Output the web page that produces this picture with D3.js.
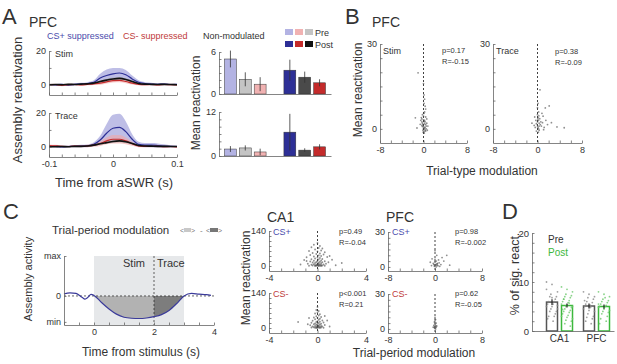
<!DOCTYPE html>
<html>
<head>
<meta charset="utf-8">
<script src="https://cdn.jsdelivr.net/npm/d3@7"></script>
<style>
  body { margin: 0; background: #fff; }
  text { font-family: "Liberation Sans", Arial, sans-serif; font-weight: normal; }
</style>
</head>
<body>
<svg id="fig" width="617" height="364"></svg>
<script>
// ---------- data ----------
// A: reactivation traces around aSWR (time in s)
const traceT = [-0.1,-0.09,-0.08,-0.07,-0.06,-0.05,-0.04,-0.03,-0.02,-0.01,0,0.01,0.02,0.03,0.04,0.05,0.06,0.07,0.08,0.09,0.1];
const stimBlue     = [0.2,0.0,0.3,-0.2,0.3,0.5,0.8,1.5,4.0,5.5,6.5,7.0,6.0,3.5,1.5,0.8,0.5,0.3,0.5,0.2,0.3];
const stimBlueErr  = [0.5,0.5,0.5,0.5,0.6,0.7,0.8,1.2,2.5,3.5,3.5,3.0,2.8,2.0,1.2,0.8,0.8,0.6,0.6,0.5,0.5];
const stimRed      = [0.0,0.2,-0.3,0.1,0.2,0.0,0.3,0.6,1.0,1.8,2.5,2.6,2.0,1.0,0.3,0.1,0.2,-0.1,0.2,0.1,0.0];
const stimRedErr   = [0.5,0.5,0.5,0.5,0.5,0.5,0.6,0.7,0.9,1.0,1.1,1.1,1.0,0.8,0.6,0.5,0.5,0.5,0.5,0.5,0.5];
const stimBlack    = [0.0,0.2,0.1,0.3,0.2,0.4,0.6,1.0,2.0,2.8,3.5,3.8,3.2,2.0,0.8,0.4,0.3,0.2,0.3,0.2,0.1];
const stimBlackErr = [0.3,0.3,0.3,0.3,0.3,0.3,0.4,0.5,0.6,0.7,0.8,0.8,0.7,0.6,0.4,0.3,0.3,0.3,0.3,0.3,0.3];
const trcBlue      = [0.2,0.3,0.0,0.2,0.3,0.5,0.6,1.5,4.0,8.0,11.0,11.5,9.0,4.5,1.5,1.0,1.0,0.8,0.5,0.3,0.2];
const trcBlueErr   = [0.6,0.6,0.6,0.6,0.6,0.7,0.8,1.2,2.5,5.5,8.0,8.0,6.0,3.0,1.5,1.2,1.2,1.2,1.0,0.7,0.6];
const trcRed       = [0.8,0.6,0.3,0.2,0.4,0.3,0.5,1.0,2.0,3.5,4.5,4.5,3.5,1.8,0.5,0.3,0.2,0.3,0.1,0.2,0.0];
const trcRedErr    = [0.6,0.6,0.5,0.5,0.5,0.6,0.7,1.0,1.5,2.0,2.5,2.5,2.0,1.2,0.7,0.6,0.5,0.5,0.5,0.5,0.5];
const trcBlack     = [0.0,0.1,0.2,0.1,0.3,0.3,0.5,1.0,1.8,2.5,3.2,3.5,3.0,2.0,0.8,0.5,0.4,0.3,0.3,0.2,0.2];
const trcBlackErr  = [0.3,0.3,0.3,0.3,0.3,0.3,0.4,0.5,0.6,0.7,0.8,0.8,0.7,0.6,0.4,0.3,0.3,0.3,0.3,0.3,0.3];

// A: mean reactivation bars (CS+ suppressed, non-modulated, CS- suppressed)
const stimPre = [5.0, 2.1, 1.4],  stimPreErr = [1.2, 1.0, 1.0];
const stimPost = [3.4, 2.4, 1.6], stimPostErr = [1.5, 0.8, 0.5];
const trcPre = [1.9, 2.2, 1.1],   trcPreErr = [0.8, 0.7, 0.9];
const trcPost = [6.5, 1.6, 2.5],  trcPostErr = [5.0, 0.5, 0.7];

// B: trial-type modulation vs mean reactivation (PFC)
const bStim = [[-1.0,19.8],[0.0,16],[0.1,12],[0.2,10.5],[0.1,9],[0.3,8],[0.4,7],[0.2,6],[-0.2,5],[0.1,5.5],
  [-1.5,3.9],[-1.2,0.3],[-0.5,3],[-0.3,2.5],[-0.2,2],[-0.1,1.5],[0.0,1],[0.1,0.5],[0.2,0],[0.3,-0.5],
  [0.4,-0.8],[0.5,1],[0.6,2],[-0.4,4],[-0.3,3.5],[0.0,4.5],[0.2,3],[0.3,2.5],[0.4,1.5],[0.1,-1],
  [-0.1,-0.5],[0.0,0.2],[-0.2,0.8],[0.3,0.5],[0.5,0],[0.7,-0.5],[0.2,1.8],[-0.3,1.2],[0.1,2.6],[0.0,3.2],
  [0.6,3.5],[0.8,1],[-0.6,1.6],[0.15,-1.5],[-0.05,-1.2],[0.4,4.2]];
const bTrace = [[0.45,13.8],[2.1,8.1],[1.4,7.4],[0.8,5.5],[1.0,4.5],[1.5,3],[2.5,2.2],[3.5,0.7],[4.8,0.4],[-0.5,4.2],
  [-1.0,2],[-0.3,3],[0.0,5],[0.1,4],[0.2,3],[0.3,2],[0.0,1],[0.1,0.5],[0.2,0],[0.3,-0.5],
  [-0.2,-0.8],[0.5,1.5],[0.6,2.5],[0.2,6],[0.0,7.5],[0.1,9],[0.7,1],[1.2,0.5],[1.8,1.5],[-0.4,0.5],
  [-0.2,1.8],[0.4,3.6],[0.0,2.5],[0.15,-1.2],[0.3,1],[0.9,2.2],[1.1,-0.3],[-0.6,1.2],[0.05,3.5],[0.25,4.6]];

// C: schematic assembly activity
const schemT = [-1,-0.8,-0.6,-0.4,-0.3,-0.2,-0.1,0,0.25,0.5,0.75,1,1.25,1.5,1.75,2,2.25,2.5,2.75,3,3.25,3.5,3.75,3.9];
const schemV = [0.08,0.12,0.1,-0.05,-0.12,-0.05,0.06,0.02,-0.25,-0.5,-0.7,-0.82,-0.86,-0.87,-0.85,-0.8,-0.72,-0.56,-0.3,0.0,0.1,0.07,0.05,0.02];

// C: trial-period modulation vs mean reactivation
const ca1Plus = [[0.0,92],[-0.3,85],[0.2,80],[-0.5,75],[0.1,72],[0.4,70],[-0.2,66],[0.3,62],[-0.7,60],[0.0,58],
  [0.6,55],[-0.4,52],[0.2,50],[-0.1,48],[0.5,46],[-0.6,44],[0.1,42],[0.3,40],[-0.3,38],[0.8,36],
  [-0.9,35],[0.0,34],[0.2,32],[-0.2,30],[0.4,28],[-0.5,27],[0.1,26],[1.2,25],[-1.1,24],[0.3,22],
  [-0.3,21],[0.0,20],[0.6,19],[-0.6,18],[0.2,17],[-0.1,16],[0.4,15],[-0.4,14],[2.0,12],[0.1,13],
  [-0.2,12],[0.3,11],[0.0,10],[-0.8,9],[0.7,9],[0.1,8],[-0.3,7],[0.2,6],[0.5,6],[-0.5,5],
  [0.0,5],[0.3,4],[-0.1,4],[0.1,3],[-0.2,3],[0.4,2],[-0.4,2],[0.0,2],[0.2,1],[-0.1,1],
  [0.6,1],[-0.7,1],[0.1,0],[-0.2,0],[0.3,0],[1.5,3],[-1.4,6],[0.9,15],[-0.9,20],[1.0,40]];
const ca1Minus = [[0.0,84],[-0.1,72],[0.1,68],[0.0,62],[-0.2,58],[0.2,55],[0.1,50],[-0.1,47],[0.3,44],[-0.3,42],
  [0.0,40],[0.2,37],[-0.2,35],[0.1,33],[0.4,30],[-0.4,29],[0.0,27],[0.2,25],[-0.1,24],[0.5,22],
  [-0.5,21],[0.1,20],[-0.2,18],[0.3,17],[0.0,16],[-0.3,15],[0.2,14],[-0.1,13],[0.6,12],[-0.6,11],
  [0.1,10],[0.0,9],[-0.2,8],[0.3,8],[0.1,7],[-0.4,6],[0.4,6],[0.0,5],[-0.1,4],[0.2,4],
  [0.0,3],[-0.3,3],[0.3,2],[0.1,2],[-0.2,1],[0.0,1],[0.2,0],[-0.1,0],[0.5,1],[-0.5,2],
  [-1.6,24],[1.0,6],[-0.8,15],[0.8,30],[-0.7,40],[0.6,48]];
const pfcPlus = [[0.0,14],[0.3,10],[2.0,10],[1.2,8],[-0.5,7],[0.6,6],[1.5,5],[-0.8,4],[0.2,5],[0.0,4],
  [0.4,3],[-0.3,3],[0.1,2],[-0.2,2],[0.3,1.5],[0.0,1],[0.5,1],[-0.1,0.5],[0.2,0],[0.8,0.5],
  [1.0,2],[2.5,1.5],[-0.6,1.2],[0.0,6.5],[0.35,2.5],[0.7,3.5]];
const pfcMinus = [[0.0,10],[0.1,8],[-0.1,6],[0.2,5],[0.0,4],[-0.2,3],[0.1,3],[0.0,2],[0.2,1.5],[-0.1,1],
  [0.0,0.5],[0.1,0],[-0.3,1.5],[0.3,2.5],[0.0,7]];

// D: % of significantly reactivated assemblies
const dRegions = ["CA1", "PFC"];
const dMeans = {CA1: [5.9, 5.2], PFC: [5.1, 5.0]};
const dErrs = {CA1: [0.6, 0.4], PFC: [0.5, 0.4]};
const ca1PreDots = [10,9.5,8,7.5,7,7,6.5,6,6,5.5,5.5,5,5,4.5,4.5,4,4,3.5,3,3,2.5,2,8.5,6.8,5.2];
const ca1PostDots = [9,8.5,8,7.5,7.2,7,6.8,6.5,6.2,6,5.8,5.5,5.3,5,5,4.8,4.5,4.2,4,3.8,3.5,3.2,3,2.8,2.5,2.2,2,1.5,1,6.5,5.7,4.4];
const pfcPreDots = [8,7.5,7,6.8,6.5,6,5.8,5.5,5,5,4.8,4.5,4.2,4,3.5,3,2.8,2.5,2,1.5,6.2,5.3];
const pfcPostDots = [8,7.5,7,6.5,6.2,6,5.8,5.5,5.2,5,5,4.8,4.5,4.2,4,3.8,3.5,3,2.5,2,1.5,6.8,5.5,4.6];

// ---------- helpers ----------
const svg = d3.select("#fig");
const BLUE = "#2d2f96", RED = "#c42b2b", GREEN = "#3cb83c";
const INK = "#333";

function label(x, y, str, o = {}) {
    const t = svg.append("text")
        .attr("x", x).attr("y", y)
        .attr("fill", o.color || INK)
        .attr("text-anchor", o.anchor || "start")
        .style("font-size", (o.size || 9) + "px")
        .text(str);
    if (o.rotate) t.attr("x", 0).attr("y", 0).attr("transform", `translate(${x},${y}) rotate(-90)`);
    return t;
}

function near(list, d) {
    return (list || []).some(v => Math.abs(v - d) < 1e-9);
}

// MATLAB-ish axes: box off, ticks pointing inward
function axes(x, y, o) {
    const gx = svg.append("g")
        .attr("transform", `translate(0,${y.range()[0]})`)
        .call(d3.axisBottom(x).tickValues(o.xTicks).tickSize(-2.5).tickSizeOuter(0).tickPadding(4)
            .tickFormat(o.xFmt || (d => near(o.xLab, d) ? String(d) : "")));
    const gy = svg.append("g")
        .attr("transform", `translate(${x.range()[0]},0)`)
        .call(d3.axisLeft(y).tickValues(o.yTicks).tickSize(-2.5).tickSizeOuter(0).tickPadding(3)
            .tickFormat(o.yFmt || (d => near(o.yLab, d) ? String(d) : "")));
    [gx, gy].forEach(g => {
        g.attr("font-family", "'Liberation Sans', Arial, sans-serif").attr("font-size", o.fs || 9);
        g.select(".domain").attr("stroke", "#666").attr("stroke-width", 0.8);
        g.selectAll(".tick line").attr("stroke", "#666").attr("stroke-width", 0.8);
        g.selectAll(".tick text").attr("fill", INK);
    });
}

// ---------- panel letters ----------
label(2, 24, "A", {size: 22});
label(345, 24, "B", {size: 22});
label(3, 219, "C", {size: 22});
label(502, 219, "D", {size: 22});

// ---------- A: traces ----------
label(29, 27, "PFC", {size: 14});
label(47, 39, "CS+ suppressed", {color: "#4b4bab"});
label(123, 39, "CS- suppressed", {color: "#c03a3a"});
label(203, 39, "Non-modulated");

const xT = d3.scaleLinear().domain([-0.1, 0.1]).range([49, 177]);
const timeTicks = d3.range(-0.1, 0.1001, 0.02);

function tracePanel(yTop, yBot, series, name, showX, clipId) {
    const y = d3.scaleLinear().domain([-6, 20]).range([yBot, yTop]);
    svg.append("clipPath").attr("id", clipId).append("rect")
        .attr("x", 49).attr("y", yTop).attr("width", 128).attr("height", yBot - yTop);
    const g = svg.append("g").attr("clip-path", `url(#${clipId})`);
    const area = d3.area().x((d, i) => xT(traceT[i]))
        .y0(d => y(d[0] - d[1])).y1(d => y(d[0] + d[1])).curve(d3.curveMonotoneX);
    const line = d3.line().x((d, i) => xT(traceT[i])).y(d => y(d)).curve(d3.curveMonotoneX);
    series.forEach(s => {
        g.append("path").datum(s.m.map((v, i) => [v, s.e[i]]))
            .attr("d", area).attr("fill", s.band).attr("opacity", s.op);
    });
    series.forEach(s => {
        g.append("path").datum(s.m).attr("d", line)
            .attr("fill", "none").attr("stroke", s.c).attr("stroke-width", s.w);
    });
    axes(xT, y, {xTicks: timeTicks, xLab: showX ? [-0.1, 0, 0.1] : [], yTicks: [0, 10, 20], yLab: [0, 20]});
    label(55, yTop + 6, name);
}

tracePanel(51, 95, [
    {m: stimBlue, e: stimBlueErr, c: BLUE, band: "#a8a8de", op: 0.75, w: 1.2},
    {m: stimRed, e: stimRedErr, c: RED, band: "#f2a6a6", op: 0.6, w: 1.2},
    {m: stimBlack, e: stimBlackErr, c: "#111", band: "#9a9a9a", op: 0.5, w: 1.6}
], "Stim", false, "clipStim");
tracePanel(113, 157, [
    {m: trcBlue, e: trcBlueErr, c: BLUE, band: "#a8a8de", op: 0.75, w: 1.2},
    {m: trcRed, e: trcRedErr, c: RED, band: "#f2a6a6", op: 0.6, w: 1.2},
    {m: trcBlack, e: trcBlackErr, c: "#111", band: "#9a9a9a", op: 0.5, w: 1.6}
], "Trace", true, "clipTrace");

label(22, 100, "Assembly reactivation", {size: 13, anchor: "middle", rotate: true});
label(114, 187, "Time from aSWR (s)", {size: 13, anchor: "middle"});

// ---------- A: bars ----------
const slots = ["pre0", "pre1", "pre2", "gap", "post0", "post1", "post2"];
const xBar = d3.scaleBand().domain(slots).range([223, 327]).paddingInner(0.2).paddingOuter(0.1);
const preCol = ["#b3b3e3", "#c4c4c4", "#f1b2b2"];
const postCol = [BLUE, "#4a4a4a", RED];

function barPanel(yTop, yBot, max, step, pre, preErr, post, postErr) {
    const y = d3.scaleLinear().domain([0, max]).range([yBot, yTop]);
    const rows = pre.map((v, i) => ({slot: "pre" + i, v, e: preErr[i], c: preCol[i]}))
        .concat(post.map((v, i) => ({slot: "post" + i, v, e: postErr[i], c: postCol[i]})));
    svg.append("g").selectAll("rect").data(rows).join("rect")
        .attr("x", d => xBar(d.slot)).attr("width", xBar.bandwidth())
        .attr("y", d => y(d.v)).attr("height", d => y(0) - y(d.v))
        .attr("fill", d => d.c).attr("stroke", "#333").attr("stroke-width", 0.5);
    svg.append("g").selectAll("line").data(rows).join("line")
        .attr("x1", d => xBar(d.slot) + xBar.bandwidth() / 2).attr("x2", d => xBar(d.slot) + xBar.bandwidth() / 2)
        .attr("y1", d => y(Math.max(0, d.v - d.e))).attr("y2", d => y(d.v + d.e))
        .attr("stroke", "#333").attr("stroke-width", 0.8);
    const xAx = d3.scaleLinear().domain([0, 1]).range([219, 331]);
    axes(xAx, y, {xTicks: [], yTicks: d3.range(0, max + 0.01, step), yLab: [0, max]});
}
barPanel(52, 94, 6, 1, stimPre, stimPreErr, stimPost, stimPostErr);
barPanel(112, 156, 12, 2, trcPre, trcPreErr, trcPost, trcPostErr);
label(200, 103, "Mean reactivation", {size: 12, anchor: "middle", rotate: true});

// legend
[["#b3b3e3", "#f1b2b2", "#c4c4c4"], [BLUE, RED, "#111"]].forEach((cols, r) => {
    cols.forEach((c, i) => {
        svg.append("rect").attr("x", 285 + i * 10).attr("y", 29 + r * 12)
            .attr("width", 8).attr("height", 6).attr("fill", c);
    });
    label(315, 36 + r * 12, r === 0 ? "Pre" : "Post");
});

// ---------- B ----------
label(372, 27, "PFC", {size: 14});

function scatter(pts, x, y, o) {
    axes(x, y, o);
    svg.append("line")
        .attr("x1", x(0)).attr("x2", x(0)).attr("y1", y.range()[1]).attr("y2", y.range()[0])
        .attr("stroke", "#111").attr("stroke-width", 0.8).attr("stroke-dasharray", "2,2");
    svg.append("g").selectAll("circle").data(pts).join("circle")
        .attr("cx", d => x(d[0])).attr("cy", d => y(d[1])).attr("r", 0.9)
        .attr("fill", "#444").attr("opacity", 0.6);
}

const bY = d3.scaleLinear().domain([-5, 30]).range([143, 44]);
const bOpts = {xTicks: d3.range(-8, 8.01, 2), xLab: [-8, 0, 8], yTicks: d3.range(0, 30.01, 5), yLab: [0, 30]};
scatter(bStim, d3.scaleLinear().domain([-8, 8]).range([380, 467]), bY, bOpts);
scatter(bTrace, d3.scaleLinear().domain([-8, 8]).range([493, 582]), bY, bOpts);
label(383, 54, "Stim");
label(442, 53, "p=0.17", {size: 7.5});
label(442, 64, "R=-0.15", {size: 7.5});
label(496, 54, "Trace");
label(555, 54, "p=0.38", {size: 7.5});
label(555, 65, "R=-0.09", {size: 7.5});
label(362, 90, "Mean reactivation", {size: 12, anchor: "middle", rotate: true});
label(482, 175, "Trial-type modulation", {size: 12, anchor: "middle"});

// ---------- C: schematic ----------
label(52, 234, "Trial-period modulation", {size: 11.5});
label(180, 233, "<", {size: 7, color: "#777"});
svg.append("rect").attr("x", 184).attr("y", 228).attr("width", 7).attr("height", 4).attr("fill", "#c8c8c8");
label(191, 233, ">", {size: 7, color: "#777"});
label(200, 233, "-", {size: 8, color: "#777"});
label(206, 233, "<", {size: 7, color: "#777"});
svg.append("rect").attr("x", 210).attr("y", 228).attr("width", 8).attr("height", 4).attr("fill", "#777");
label(218, 233, ">", {size: 7, color: "#777"});

const sx = d3.scaleLinear().domain([-1, 4]).range([64, 214]);
const sy = d3.scaleLinear().domain([-1.12, 1.54]).range([325, 256]);
svg.append("rect").attr("x", sx(0)).attr("y", sy(1.54)).attr("width", sx(3) - sx(0))
    .attr("height", sy(-1.12) - sy(1.54)).attr("fill", "#e6e8ea");
const schem = schemT.map((t, i) => [t, schemV[i]]);
const fillArea = d3.area().x(d => sx(d[0])).y0(sy(0)).y1(d => sy(Math.min(0, d[1]))).curve(d3.curveMonotoneX);
svg.append("path").datum(schem.filter(d => d[0] >= 0 && d[0] <= 2)).attr("d", fillArea).attr("fill", "#b2b2b2");
svg.append("path").datum(schem.filter(d => d[0] >= 2 && d[0] <= 3)).attr("d", fillArea).attr("fill", "#7d7d7d");
svg.append("line").attr("x1", sx(-1)).attr("x2", sx(4)).attr("y1", sy(0)).attr("y2", sy(0))
    .attr("stroke", "#222").attr("stroke-width", 0.7).attr("stroke-dasharray", "2,2");
svg.append("line").attr("x1", sx(2)).attr("x2", sx(2)).attr("y1", sy(1.54)).attr("y2", sy(-1.12))
    .attr("stroke", "#222").attr("stroke-width", 0.7).attr("stroke-dasharray", "2,2");
svg.append("path").datum(schem)
    .attr("d", d3.line().x(d => sx(d[0])).y(d => sy(d[1])).curve(d3.curveMonotoneX))
    .attr("fill", "none").attr("stroke", "#3b3b9a").attr("stroke-width", 1.2);
axes(sx, sy, {
    xTicks: d3.range(-1, 4.01, 0.5), xLab: [0, 2, 4],
    yTicks: [-1, 0, 1.54], yFmt: d => d === -1 ? "min" : d === 0 ? "0" : "max"
});
label(123, 267, "Stim", {size: 11});
label(157, 267, "Trace", {size: 11});
label(32, 279, "Assembly activity", {size: 11, anchor: "middle", rotate: true});
label(141, 356, "Time from stimulus (s)", {size: 12, anchor: "middle"});

// ---------- C: scatters ----------
label(267, 222, "CA1", {size: 14});
label(386, 222, "PFC", {size: 14});
const caX = d3.scaleLinear().domain([-4, 4]).range([269, 366]);
const pfX = d3.scaleLinear().domain([-8, 8]).range([388, 482]);
const caOpts = {xTicks: d3.range(-4, 4.01, 1), xLab: [-4, 0, 4], yTicks: d3.range(0, 140.1, 20), yLab: [0, 140]};
const pfOpts = {xTicks: d3.range(-8, 8.01, 2), xLab: [-8, 0, 8], yTicks: d3.range(0, 30.01, 5), yLab: [0, 30]};
scatter(ca1Plus, caX, d3.scaleLinear().domain([-20, 140]).range([271, 231]), caOpts);
scatter(ca1Minus, caX, d3.scaleLinear().domain([-20, 140]).range([333, 293]), caOpts);
scatter(pfcPlus, pfX, d3.scaleLinear().domain([-3.5, 30]).range([271, 232]), pfOpts);
scatter(pfcMinus, pfX, d3.scaleLinear().domain([-3.5, 30]).range([333, 294]), pfOpts);
label(273, 235, "CS+", {color: "#4b4bab"});
label(273, 297, "CS-", {color: "#c03a3a"});
label(392, 235, "CS+", {color: "#4b4bab"});
label(392, 297, "CS-", {color: "#c03a3a"});
label(339, 234, "p=0.49", {size: 7.5});
label(339, 245, "R=-0.04", {size: 7.5});
label(339, 296, "p<0.001", {size: 7.5});
label(339, 307, "R=0.21", {size: 7.5});
label(455, 234, "p=0.98", {size: 7.5});
label(455, 245, "R=-0.002", {size: 7.5});
label(455, 296, "p=0.62", {size: 7.5});
label(455, 307, "R=-0.05", {size: 7.5});
label(250, 278, "Mean reactivation", {size: 12, anchor: "middle", rotate: true});
label(414, 357, "Trial-period modulation", {size: 12, anchor: "middle"});

// ---------- D ----------
const dx = d3.scaleBand().domain(dRegions).range([541, 615]);
const dxi = d3.scaleBand().domain(["Pre", "Post"]).range([5.5, 31.5]).paddingInner(0.267);
const dy = d3.scaleLinear().domain([0, 20]).range([331, 233]);
const dDots = {CA1: [ca1PreDots, ca1PostDots], PFC: [pfcPreDots, pfcPostDots]};
dRegions.forEach(r => {
    ["Pre", "Post"].forEach((k, j) => {
        const x0 = dx(r) + dxi(k), w = dxi.bandwidth(), cx = x0 + w / 2;
        const col = j === 0 ? "#555" : GREEN;
        const m = dMeans[r][j], e = dErrs[r][j];
        svg.append("rect").attr("x", x0).attr("y", dy(m)).attr("width", w).attr("height", dy(0) - dy(m))
            .attr("fill", "#fff").attr("stroke", col).attr("stroke-width", 1.5);
        svg.append("g").selectAll("circle").data(dDots[r][j]).join("circle")
            .attr("cx", (d, i) => cx + ((i * 5) % 11 - 5) * 1.1)
            .attr("cy", d => dy(d)).attr("r", 0.9)
            .attr("fill", j === 0 ? "#888" : "#6cc86c").attr("opacity", 0.8);
        svg.append("line").attr("x1", cx).attr("x2", cx).attr("y1", dy(m - e)).attr("y2", dy(m + e))
            .attr("stroke", "#222").attr("stroke-width", 1.2);
    });
});
const dAx = d3.scaleLinear().domain([0, 1]).range([532, 614]);
axes(dAx, dy, {xTicks: [], yTicks: d3.range(0, 20.01, 2), yLab: [0, 10, 20], fs: 9.5});
dRegions.forEach(r => label(dx(r) + dx.bandwidth() / 2, 342, r, {size: 10, anchor: "middle"}));
label(548, 243, "Pre", {size: 10});
label(548, 256, "Post", {size: 10, color: GREEN});
label(519, 274, "% of sig. react.", {size: 12.5, anchor: "middle", rotate: true});
</script>
</body>
</html>
